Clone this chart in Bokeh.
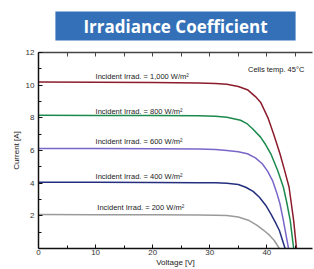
from bokeh.plotting import figure
from bokeh.models import FixedTicker, LinearAxis, Title, Range1d
from bokeh.core.properties import value
from bokeh.embed import file_html
from bokeh.resources import INLINE

# Data
v_1000 = [0, 10, 20, 28, 31, 33, 35, 36.7, 38, 38.9, 40.2, 41.2, 42.3, 43.1, 43.9, 44.7, 45.2]
i_1000 = [10.2, 10.18, 10.16, 10.13, 10.1, 10.05, 9.92, 9.7, 9.3, 8.96, 8.0, 7.0, 5.8, 4.8, 3.75, 1.71, 0]
v_800 = [0, 10, 20, 28, 31, 33, 35.4, 36.5, 37.5, 38.9, 39.8, 40.7, 41.9, 42.9, 43.5, 44.1, 44.7]
i_800 = [8.16, 8.15, 8.14, 8.12, 8.1, 8.04, 7.85, 7.65, 7.33, 6.82, 6.35, 5.8, 4.78, 3.75, 2.8, 1.71, 0]
v_600 = [0, 10, 20, 28, 31, 33, 35, 36.6, 38, 39.2, 40.1, 41.0, 41.7, 42.3, 42.9, 43.8]
i_600 = [6.13, 6.12, 6.11, 6.09, 6.06, 6.0, 5.92, 5.8, 5.55, 5.19, 4.75, 4.16, 3.45, 2.74, 1.71, 0]
v_400 = [0, 10, 20, 28, 31, 33, 35, 36.3, 37.6, 38.7, 39.8, 40.7, 41.5, 42.2, 43.2]
i_400 = [4.06, 4.05, 4.04, 4.03, 4.02, 4.0, 3.92, 3.75, 3.5, 3.14, 2.65, 2.12, 1.6, 1.1, 0]
v_200 = [0, 10, 20, 28, 31, 33, 35, 36.9, 38.3, 39.5, 40.5, 41.3, 42.2]
i_200 = [2.08, 2.07, 2.06, 2.05, 2.04, 2.02, 1.93, 1.71, 1.42, 1.1, 0.8, 0.49, 0]

series_labels = ["Incident Irrad. = 1,000 W/m²", "Incident Irrad. = 800 W/m²",
                 "Incident Irrad. = 600 W/m²", "Incident Irrad. = 400 W/m²",
                 "Incident Irrad. = 200 W/m²"]
label_x = [10, 10, 10, 10, 10.3]
label_y = [10.55, 8.4, 6.55, 4.42, 2.5]
colors = ["#8c1c2c", "#1c8a4c", "#7a66c8", "#232f7e", "#9a9a9a"]

x_major = [0, 10, 20, 30, 40]
x_minor = [5, 15, 25, 35, 45]
y_major = [2, 4, 6, 8, 10, 12]
y_minor = [1, 3, 5, 7, 9, 11]

title_text = "Irradiance Coefficient"
note_text = "Cells temp.  45°C"

p = figure(width=314, height=269, output_backend="svg", toolbar_location=None,
           x_range=Range1d(0, 48), y_range=Range1d(0, 12),
           min_border_left=38, min_border_right=2, min_border_top=52, min_border_bottom=20)
p.grid.visible = False
p.outline_line_color = None
p.background_fill_color = "white"
p.border_fill_color = "white"

series = [(v_1000, i_1000), (v_800, i_800), (v_600, i_600), (v_400, i_400), (v_200, i_200)]
for (vx, iy), c in zip(series, colors):
    p.line(vx, iy, line_color=c, line_width=1.5, line_join="round")

p.text(x=label_x, y=label_y, text=series_labels, text_font=value("Liberation Sans"),
       text_font_size="7.5px", text_baseline="middle", text_color="#222")
p.text(x=[36.7], y=[10.96], text=[note_text], text_font=value("Liberation Sans"),
       text_font_size="7.5px", text_baseline="middle", text_color="#222")

for ax in (p.xaxis[0], p.yaxis[0]):
    ax.major_tick_in = 4
    ax.major_tick_out = 0
    ax.minor_tick_in = 3
    ax.minor_tick_out = 0
    ax.axis_line_width = 1.5
    ax.axis_line_color = "#111"
    ax.major_tick_line_color = "#111"
    ax.minor_tick_line_color = "#111"
    ax.major_label_text_font = "Liberation Sans"
    ax.major_label_text_font_size = "8px"
    ax.major_label_text_color = "#333"
    ax.axis_label_text_font = "Liberation Sans"
    ax.axis_label_text_font_size = "8px"
    ax.axis_label_text_font_style = "normal"
    ax.axis_label_text_color = "#222"
    ax.axis_label_standoff = 0

p.xaxis[0].ticker = FixedTicker(ticks=x_major, minor_ticks=x_minor)
p.yaxis[0].ticker = FixedTicker(ticks=y_major, minor_ticks=y_minor)
p.xaxis[0].axis_label = "Voltage [V]"
p.yaxis[0].axis_label = "Current [A]"
p.xaxis[0].major_label_standoff = 1
p.yaxis[0].major_label_standoff = 4
p.yaxis[0].axis_label_standoff = 2

top = LinearAxis(ticker=FixedTicker(ticks=x_major, minor_ticks=x_minor),
                 major_label_overrides={t: "" for t in x_major},
                 major_tick_in=4, major_tick_out=0, minor_tick_in=4, minor_tick_out=0,
                 axis_line_width=1.5, axis_line_color="#444",
                 major_tick_line_color="#444", minor_tick_line_color="#444",
                 major_label_text_font_size="1px", major_label_standoff=0)
p.add_layout(top, "above")

title = Title(text=title_text, align="center", offset=-8, vertical_align="top",
              text_font="Open Sans", text_font_style="bold", text_font_size="17px",
              text_color="white", background_fill_color="#3370b7",
              padding={"left": 28, "right": 28, "top": 3, "bottom": 3},
              standoff=20)
p.add_layout(title, "above")

open("out.html", "w").write(file_html(p, INLINE))
